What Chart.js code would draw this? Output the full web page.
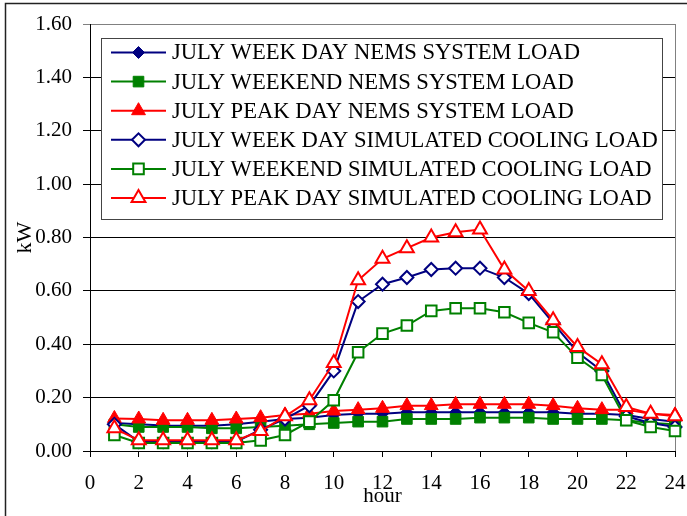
<!DOCTYPE html>
<html lang="en">

<head>
  <meta charset="UTF-8" />
  <title>July load</title>
  <style>
    * {
      box-sizing: border-box;
      margin: 0;
      padding: 0;
    }

    html,
    body {
      width: 687px;
      height: 516px;
      background: #fff;
      overflow: hidden;
    }

    #wrap {
      position: relative;
      width: 687px;
      height: 516px;
    }
  </style>
  <script src="https://cdn.jsdelivr.net/npm/chart.js@4/dist/chart.umd.min.js"></script>
</head>

<body>
  <div id="wrap">
    <canvas id="loadChart" width="687" height="516"></canvas>
  </div>

  <script>
    // hours 1..24
    const hours = [1, 2, 3, 4, 5, 6, 7, 8, 9, 10, 11, 12, 13, 14, 15, 16, 17, 18, 19, 20, 21, 22, 23, 24];
    const xTicks = [0, 2, 4, 6, 8, 10, 12, 14, 16, 18, 20, 22, 24];
    const yTicks = [0, 0.2, 0.4, 0.6, 0.8, 1.0, 1.2, 1.4, 1.6];

    const weekdayNems = [0.105, 0.10, 0.096, 0.095, 0.095, 0.10, 0.11, 0.12, 0.125, 0.135, 0.14, 0.14,
      0.145, 0.145, 0.145, 0.145, 0.145, 0.145, 0.145, 0.14, 0.14, 0.135, 0.12, 0.11];
    const weekendNems = [0.10, 0.09, 0.09, 0.09, 0.085, 0.085, 0.09, 0.095, 0.10, 0.105, 0.11, 0.11,
      0.12, 0.12, 0.12, 0.125, 0.125, 0.125, 0.12, 0.12, 0.12, 0.115, 0.105, 0.10];
    const peakNems = [0.122, 0.12, 0.115, 0.115, 0.115, 0.12, 0.125, 0.135, 0.14, 0.15, 0.155, 0.16,
      0.17, 0.17, 0.175, 0.175, 0.175, 0.175, 0.17, 0.16, 0.155, 0.155, 0.14, 0.135];
    const weekdaySim = [0.10, 0.035, 0.035, 0.035, 0.035, 0.035, 0.08, 0.12, 0.17, 0.30, 0.56, 0.625,
      0.65, 0.68, 0.685, 0.685, 0.65, 0.59, 0.48, 0.37, 0.30, 0.13, 0.105, 0.09];
    const weekendSim = [0.06, 0.03, 0.03, 0.03, 0.03, 0.03, 0.04, 0.06, 0.11, 0.19, 0.37, 0.44,
      0.47, 0.525, 0.535, 0.535, 0.52, 0.48, 0.445, 0.35, 0.285, 0.115, 0.09, 0.075];
    const peakSim = [0.085, 0.04, 0.04, 0.04, 0.04, 0.04, 0.075, 0.13, 0.19, 0.33, 0.64, 0.72,
      0.76, 0.80, 0.82, 0.83, 0.68, 0.60, 0.49, 0.39, 0.325, 0.165, 0.14, 0.13];

    const seriesNames = [
      'JULY WEEK DAY NEMS SYSTEM LOAD',
      'JULY WEEKEND NEMS SYSTEM LOAD',
      'JULY PEAK DAY NEMS SYSTEM LOAD',
      'JULY WEEK DAY SIMULATED COOLING LOAD',
      'JULY WEEKEND SIMULATED COOLING LOAD',
      'JULY PEAK DAY SIMULATED COOLING LOAD'
    ];

    const NAVY = '#000080';
    const GREEN = '#008000';
    const RED = '#ff0000';
    const SERIF = "'Liberation Serif', 'Times New Roman', serif";

    function series(i, values, color, style, radius, filled) {
      return {
        label: seriesNames[i],
        data: hours.map((h, k) => ({ x: h, y: values[k] })),
        borderColor: color,
        borderWidth: 2,
        pointStyle: style,
        pointRadius: radius,
        pointHoverRadius: radius,
        pointBackgroundColor: filled ? color : '#fff',
        pointBorderColor: color,
        pointBorderWidth: filled ? 1 : 2,
        fill: false,
        tension: 0,
        clip: 8,
        order: 5 - i
      };
    }

    const datasets = [
      series(0, weekdayNems, NAVY, 'rectRot', 6, true),
      series(1, weekendNems, GREEN, 'rect', 7.5, true),
      series(2, peakNems, RED, 'triangle', 8, true),
      series(3, weekdaySim, NAVY, 'rectRot', 6.5, false),
      series(4, weekendSim, GREEN, 'rect', 7.5, false),
      series(5, peakSim, RED, 'triangle', 8, false)
    ];

    // frame, plot border and the legend box drawn inside the plot
    const decor = {
      id: 'decor',
      beforeDatasetsDraw(chart) {
        const { ctx, chartArea: a } = chart;
        ctx.save();
        ctx.strokeStyle = '#808080';
        ctx.lineWidth = 1;
        ctx.beginPath();
        ctx.moveTo(a.right + 0.5, a.top);
        ctx.lineTo(a.right + 0.5, a.bottom);
        ctx.stroke();
        ctx.restore();
      },
      afterDraw(chart) {
        const ctx = chart.ctx;
        ctx.save();
        ctx.strokeStyle = '#222';
        ctx.lineWidth = 1.5;
        ctx.strokeRect(5.5, 3.5, 1000, 1000);

        // legend
        const bx = 101.5, by = 38.5, bw = 561, bh = 181;
        ctx.fillStyle = '#fff';
        ctx.fillRect(bx, by, bw, bh);
        ctx.strokeStyle = '#444';
        ctx.lineWidth = 1;
        ctx.strokeRect(bx, by, bw, bh);

        ctx.font = '21px ' + SERIF;
        const widest = Math.max(...seriesNames.map(s => ctx.measureText(s).width));
        const size = Math.min(23, 21 * 486 / widest);
        ctx.font = size + 'px ' + SERIF;
        ctx.textBaseline = 'middle';
        ctx.fillStyle = '#000';

        chart.data.datasets.forEach((ds, i) => {
          const y = 52.5 + i * 29.1;
          ctx.strokeStyle = ds.borderColor;
          ctx.lineWidth = 2;
          ctx.beginPath();
          ctx.moveTo(111, y);
          ctx.lineTo(166, y);
          ctx.stroke();
          ctx.fillStyle = ds.pointBackgroundColor;
          ctx.strokeStyle = ds.pointBorderColor;
          ctx.lineWidth = ds.pointBorderWidth;
          Chart.helpers.drawPoint(ctx, {
            pointStyle: ds.pointStyle,
            radius: ds.pointRadius,
            rotation: 0,
            borderWidth: ds.pointBorderWidth
          }, 138.5, y);
          ctx.fillStyle = '#000';
          ctx.fillText(ds.label, 172, y + 1);
        });
        ctx.restore();
      }
    };

    new Chart(document.getElementById('loadChart'), {
      type: 'line',
      data: { datasets },
      options: {
        responsive: false,
        animation: false,
        events: [],
        layout: { padding: { left: 0, top: 24, right: 0, bottom: 0 } },
        plugins: {
          legend: { display: false },
          tooltip: { enabled: false }
        },
        scales: {
          x: {
            type: 'linear',
            min: 0,
            max: 24,
            afterBuildTicks: s => { s.ticks = xTicks.map(v => ({ value: v })); },
            afterFit: s => { s.height = 65; s.paddingRight = 12; s.paddingLeft = 0; },
            ticks: {
              color: '#000',
              font: { family: SERIF, size: 21 },
              padding: 14,
              maxRotation: 0,
              autoSkip: false
            },
            grid: {
              drawOnChartArea: false,
              drawTicks: true,
              tickLength: 6,
              color: '#000'
            },
            border: { color: '#000', width: 1 },
            title: {
              display: true,
              text: 'hour',
              color: '#000',
              font: { family: SERIF, size: 21 },
              padding: { top: 0, bottom: 7 }
            }
          },
          y: {
            min: 0,
            max: 1.6,
            afterBuildTicks: s => { s.ticks = yTicks.map(v => ({ value: v })); },
            afterFit: s => { s.width = 90; },
            ticks: {
              color: '#000',
              font: { family: SERIF, size: 21 },
              padding: 11,
              callback: v => v.toFixed(2)
            },
            grid: {
              color: c => (c.tick && c.tick.value >= 1.6 ? '#808080' : '#000'),
              tickLength: 7,
              lineWidth: 1
            },
            border: { color: '#000', width: 1 },
            title: {
              display: true,
              text: 'kW',
              color: '#000',
              font: { family: SERIF, size: 22 },
              padding: { top: 12, bottom: 0 }
            }
          }
        }
      },
      plugins: [decor]
    });
  </script>
</body>

</html>
